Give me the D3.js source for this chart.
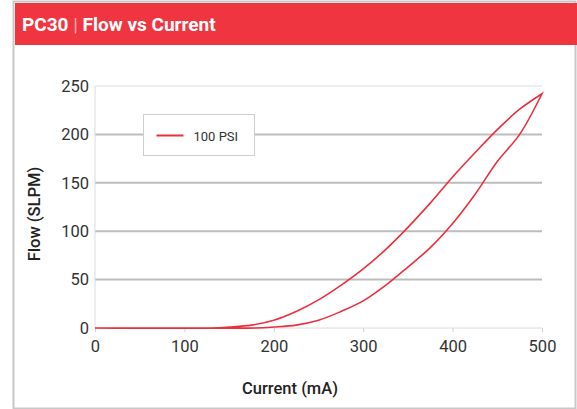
<!DOCTYPE html>
<html>
<head>
<meta charset="utf-8">
<script src="https://cdn.jsdelivr.net/npm/d3@7"></script>
<style>
  body { margin: 0; background: #fff; font-family: Roboto, "Liberation Sans", sans-serif; }
</style>
</head>
<body>
<div id="chart"></div>
<script>
// rising branch (lower curve) and falling branch (upper curve) of the 100 PSI loop
var currentUp = [0, 100, 180, 200, 225, 250, 275, 300, 325, 350, 375, 400, 425, 450, 475, 500];
var flowUp    = [0, 0, 0, 1, 3, 8, 17, 28, 44, 63, 83, 108, 138, 172, 200, 242];
var currentDown = [500, 475, 450, 425, 400, 375, 350, 325, 300, 275, 250, 225, 200, 175, 150, 130, 0];
var flowDown    = [242, 226, 205, 181, 156, 129, 104, 81, 61, 44, 29, 17, 8, 3, 1, 0, 0];
var xTicks = [0, 100, 200, 300, 400, 500];
var yTicks = [0, 50, 100, 150, 200, 250];
var seriesName = "100 PSI";

var W = 577, H = 409;
var svg = d3.select("#chart").append("svg")
  .attr("width", W)
  .attr("height", H);

// card frame
svg.append("rect").attr("x", 13.5).attr("y", 1.5).attr("width", 562).attr("height", 407)
  .attr("fill", "#fff").attr("stroke", "#c8c8c8").attr("stroke-width", 2);
svg.append("rect").attr("x", 15).attr("y", 3).attr("width", 562).attr("height", 42)
  .attr("fill", "#ee3540");
var title = svg.append("text").attr("x", 22).attr("y", 31)
  .attr("fill", "#fff").attr("font-size", 19).attr("font-weight", "bold");
title.append("tspan").text("PC30 ");
title.append("tspan").attr("font-weight", "normal").attr("fill", "#f6b0b4").text("|");
title.append("tspan").text(" Flow vs Current");

var x = d3.scaleLinear().domain([0, 500]).range([95, 542]);
var y = d3.scaleLinear().domain([0, 250]).range([328, 86]);

var g = svg.append("g");

// gridlines
g.selectAll(".grid").data(yTicks).enter().append("line")
  .attr("x1", x(0)).attr("x2", x(500))
  .attr("y1", function(d) { return y(d); }).attr("y2", function(d) { return y(d); })
  .attr("stroke", function(d) { return (d == 0 || d == 250) ? "#dcdcdc" : "#bdbdbd"; })
  .attr("stroke-width", function(d) { return (d == 0 || d == 250) ? 1 : 2; });
g.append("line").attr("x1", x(0)).attr("x2", x(0)).attr("y1", y(250)).attr("y2", y(0))
  .attr("stroke", "#dcdcdc");

// x axis
var xAxis = g.append("g").attr("transform", "translate(0," + y(0) + ")")
  .call(d3.axisBottom(x).tickValues(xTicks).tickSize(4).tickPadding(8));
xAxis.select(".domain").remove();
xAxis.selectAll("line").attr("stroke", "#d0d0d0");
xAxis.selectAll("text").attr("font-size", 16.5).attr("fill", "#333").attr("font-family", "Roboto");

var yAxis = g.append("g").attr("transform", "translate(" + x(0) + ",0)")
  .call(d3.axisLeft(y).tickValues(yTicks).tickSize(0).tickPadding(6));
yAxis.select(".domain").remove();
yAxis.selectAll("text").attr("font-size", 16.5).attr("fill", "#333").attr("font-family", "Roboto");

svg.append("text").attr("x", 290).attr("y", 394).attr("text-anchor", "middle")
  .attr("font-size", 16.5).attr("fill", "#222").attr("font-weight", 500).text("Current (mA)");
svg.append("text").attr("transform", "translate(40,214) rotate(-90)").attr("text-anchor", "middle")
  .attr("font-size", 16.5).attr("fill", "#222").attr("font-weight", 500).text("Flow (SLPM)");

// the loop
var pts = [];
currentUp.forEach(function(c, i) { pts.push([c, flowUp[i]]); });
currentDown.forEach(function(c, i) { pts.push([c, flowDown[i]]); });
var line = d3.line()
  .x(function(d) { return x(d[0]); })
  .y(function(d) { return y(d[1]); })
  .curve(d3.curveCatmullRom);
g.append("path").attr("d", line(pts))
  .attr("fill", "none").attr("stroke", "#ec2f3c").attr("stroke-width", 1.6);

// legend
var leg = svg.append("g").attr("transform", "translate(143.5,114.5)");
leg.append("rect").attr("width", 111).attr("height", 41)
  .attr("fill", "#fff").attr("stroke", "#cfcfcf");
leg.append("line").attr("x1", 13).attr("x2", 40).attr("y1", 21).attr("y2", 21)
  .attr("stroke", "#ec2f3c").attr("stroke-width", 2);
leg.append("text").attr("x", 50).attr("y", 26).attr("font-size", 13)
  .attr("fill", "#333").text(seriesName);
</script>
</body>
</html>
